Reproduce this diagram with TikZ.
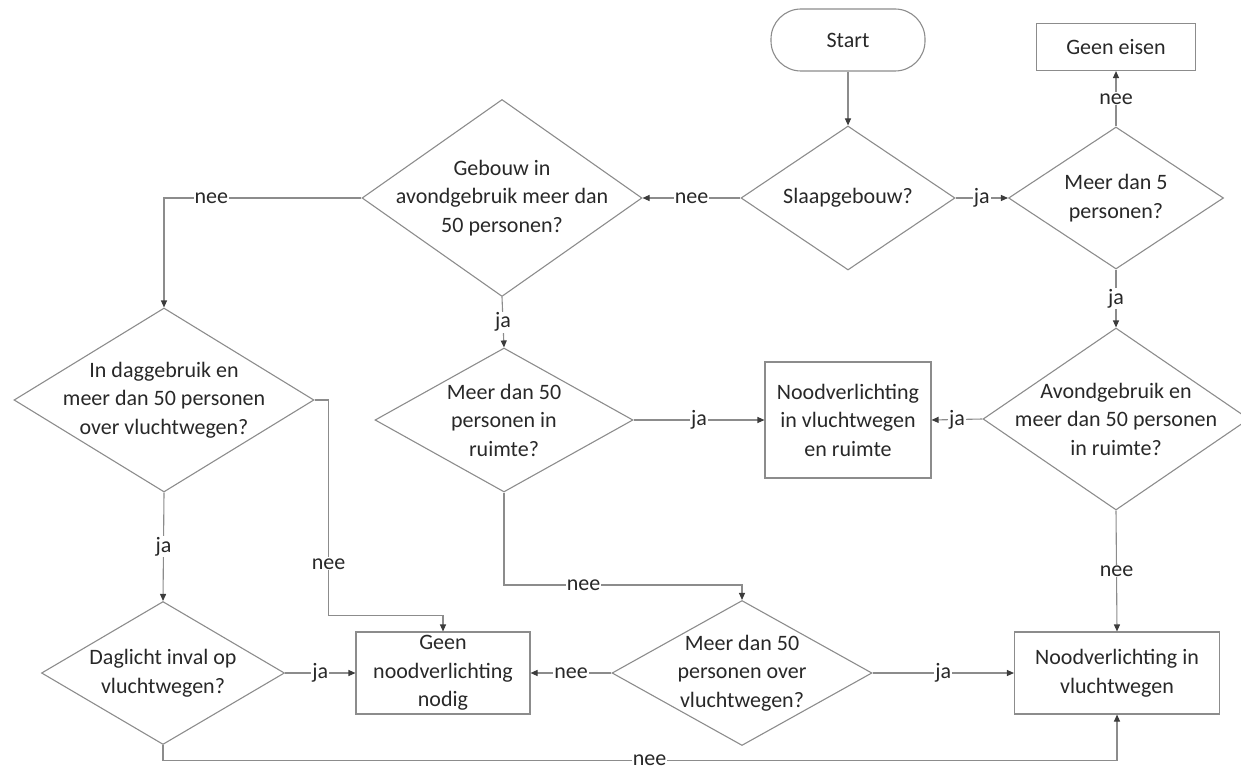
\documentclass[tikz,border=0pt]{standalone}
\usepackage{fontspec}
\setmainfont{Carlito}
\usetikzlibrary{shapes.geometric,arrows.meta,calc}
\definecolor{ln}{RGB}{140,140,140}
\definecolor{txt}{RGB}{40,40,40}
\definecolor{tip}{RGB}{60,60,60}
\begin{document}
\begin{tikzpicture}[x=1pt,y=-1pt,
  every node/.style={font=\fontsize{22}{28.5}\selectfont, text=txt},
  dia/.style={draw=ln, line width=1.1pt, diamond, inner sep=0pt},
  box/.style={draw=ln, line width=1.1pt, rectangle, inner sep=0pt},
  dtext/.style={align=center, inner sep=0pt},
  arr/.style={draw=ln, line width=1.1pt, -{Triangle[length=7pt,width=6pt,color=tip]}},
  lbl/.style={fill=white, inner sep=1pt}]
\useasboundingbox (0,0) rectangle (1241,770);

% nodes
\node[box, rounded corners=30pt, minimum width=154pt, minimum height=62pt] (start) at (848,40) {Start};
\node[box, minimum width=159pt, minimum height=47pt] (eisen) at (1116,47) {Geen eisen};
\node[dia, minimum width=214pt, minimum height=144pt] (slaap) at (848,198) {};
\node[dtext] (slaapT) at (slaap) {Slaapgebouw?};
\node[dia, minimum width=215pt, minimum height=142pt] (meer5) at (1116,198) {};
\node[dtext] (meer5T) at (meer5) {Meer dan 5\\personen?};
\node[dia, minimum width=280pt, minimum height=197pt] (gebouw) at (502,198) {};
\node[dtext] (gebouwT) at (gebouw) {Gebouw in\\avondgebruik meer dan\\50 personen?};
\node[dia, minimum width=300pt, minimum height=184pt] (dag) at (164,400) {};
\node[dtext] (dagT) at (dag) {In daggebruik en\\meer dan 50 personen\\over vluchtwegen?};
\node[dia, minimum width=243pt, minimum height=143pt] (daglicht) at (163,673) {};
\node[dtext] (daglichtT) at (daglicht) {Daglicht inval op\\vluchtwegen?};
\node[box, minimum width=174pt, minimum height=82pt, align=center] (geen) at (443,673) {Geen\\noodverlichting\\nodig};
\node[dia, minimum width=258pt, minimum height=144pt] (ruimte) at (504,420) {};
\node[dtext] (ruimteT) at (ruimte) {Meer dan 50\\personen in\\ruimte?};
\node[box, minimum width=166pt, minimum height=116pt, align=center] (nvr) at (848,420) {Noodverlichting\\in vluchtwegen\\en ruimte};
\node[dia, minimum width=266pt, minimum height=182pt] (avond) at (1116,419) {};
\node[dtext] (avondT) at (avond) {Avondgebruik en\\meer dan 50 personen\\in ruimte?};
\node[dia, minimum width=260pt, minimum height=145pt] (over) at (742,673) {};
\node[dtext] (overT) at (over) {Meer dan 50\\personen over\\vluchtwegen?};
\node[box, minimum width=205pt, minimum height=82pt, align=center] (nvw) at (1117,673) {Noodverlichting in\\vluchtwegen};

% connectors
\draw[arr] (start) -- (slaap);
\draw[arr] (slaap.west) -- node[lbl] (l1) {nee} (gebouw.east);
\draw[arr] (slaap.east) -- node[lbl] (l2) {ja} (meer5.west);
\draw[arr] (meer5.north) -- node[lbl] (l3) {nee} (eisen.south);
\draw[arr] (gebouw.west) -| node[lbl, pos=0.38] (l4) {nee} (dag.north);
\draw[arr] (dag.east) -- ++(14,0) |- node[lbl, pos=0.38] (l5) {nee} ($(geen.north)+(0,-16)$) -- (geen.north);
\draw[arr] (dag.south) -- node[lbl] (l6) {ja} (daglicht.north);
\draw[arr] (daglicht.east) -- node[lbl] (l7) {ja} (geen.west);
\draw[arr] (daglicht.south) -- ++(0,15) -| node[lbl, pos=0.255] (l8) {nee} (nvw.south);
\draw[arr] (gebouw.south) -- node[lbl] (l9) {ja} (ruimte.north);
\draw[arr] (ruimte.east) -- node[lbl] (l10) {ja} (nvr.west);
\draw[arr] (avond.west) -- node[lbl] (l11) {ja} (nvr.east);
\draw[arr] (meer5.south) -- node[lbl] (l12) {ja} (avond.north);
\draw[arr] (avond.south) -- node[lbl] (l13) {nee} (nvw.north);
\draw[arr] (ruimte.south) |- node[lbl, pos=0.667] (l14) {nee} ($(over.north)+(0,-15)$) -- (over.north);
\draw[arr] (over.west) -- node[lbl] (l15) {nee} (geen.east);
\draw[arr] (over.east) -- node[lbl] (l16) {ja} (nvw.west);
\end{tikzpicture}
\end{document}
